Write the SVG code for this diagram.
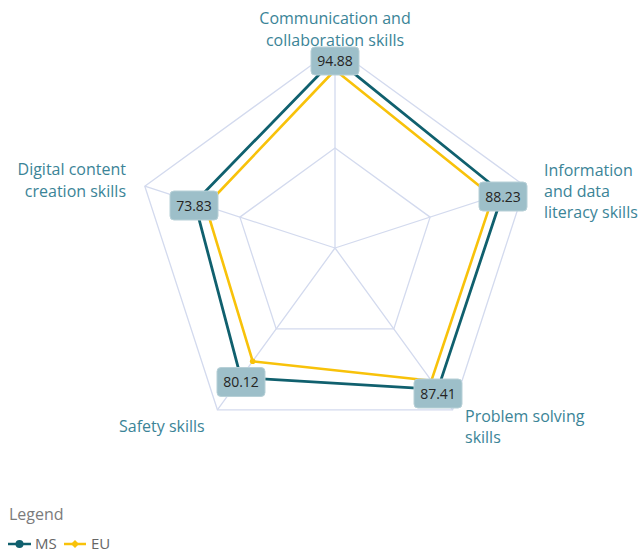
<svg xmlns="http://www.w3.org/2000/svg" width="641" height="553" viewBox="0 0 641 553">
<style>
.grid{fill:none;stroke:#d3daee;stroke-width:1.3}
.ms{fill:none;stroke:#10606e;stroke-width:2.8;stroke-linejoin:round}
.eu{fill:none;stroke:#f8c20a;stroke-width:2.6;stroke-linejoin:round}
.ax{font-family:"Open Sans","Noto Sans",sans-serif;font-size:16px;fill:#3b8497}
.box{fill:#9dbfc9;stroke:#b7d0d7;stroke-width:1}
.val{font-family:"Open Sans","Noto Sans",sans-serif;font-size:14px;fill:#252423;text-anchor:middle}
.leg{font-family:"Open Sans","Noto Sans",sans-serif;font-size:16px;fill:#7b7b7b}
.legi{font-family:"Open Sans","Noto Sans",sans-serif;font-size:15px;fill:#666}
</style>
<rect width="641" height="553" fill="#fff"/>
<g id="grid">
<polygon class="grid" points="335,48 525.2,186.2 452.6,409.8 217.4,409.8 144.8,186.2"/>
<polygon class="grid" points="335,148 430.1,217.1 393.8,328.9 276.2,328.9 239.9,217.1"/>
<path class="grid" d="M335,248L335,48M335,248L525.2,186.2M335,248L452.6,409.8M335,248L217.4,409.8M335,248L144.8,186.2"/>
</g>
<g id="connectors">
<polygon id="series-eu" class="eu" points="335,70 492.9,196.7 431.4,380.7 252.7,361.3 205.7,206"/>
<circle cx="252.7" cy="361.3" r="2.8" fill="#f8c20a"/>
<polygon id="series-ms" class="ms" points="335,58.2 502.8,193.5 437.8,389.4 240.8,377.6 194.6,202.4"/>
</g>
<g id="axis-labels">
<text class="ax" x="335" y="24" text-anchor="middle">Communication and</text>
<text class="ax" x="335" y="46" text-anchor="middle">collaboration skills</text>
<text class="ax" x="544" y="176">Information</text>
<text class="ax" x="544" y="197">and data</text>
<text class="ax" x="544" y="218">literacy skills</text>
<text class="ax" x="126" y="175" text-anchor="end">Digital content</text>
<text class="ax" x="126" y="197" text-anchor="end">creation skills</text>
<text class="ax" x="119" y="432">Safety skills</text>
<text class="ax" x="465" y="422">Problem solving</text>
<text class="ax" x="465" y="443">skills</text>
</g>
<g id="node-communication">
<rect class="box" x="311" y="47" width="48" height="28" rx="4"/>
<text class="val" x="335" y="66">94.88</text>
</g>
<g id="node-information">
<rect class="box" x="479" y="182" width="48" height="29" rx="4"/>
<text class="val" x="503" y="201.5">88.23</text>
</g>
<g id="node-problem">
<rect class="box" x="414" y="379" width="48" height="29" rx="4"/>
<text class="val" x="438" y="398.5">87.41</text>
</g>
<g id="node-safety">
<rect class="box" x="217" y="367.5" width="48" height="29" rx="4"/>
<text class="val" x="241" y="387">80.12</text>
</g>
<g id="node-digital">
<rect class="box" x="170" y="191" width="48" height="29" rx="4"/>
<text class="val" x="194" y="210.5">73.83</text>
</g>
<g id="legend">
<text class="leg" x="9" y="520">Legend</text>
<line x1="8" y1="544" x2="31" y2="544" stroke="#10606e" stroke-width="2.5"/>
<circle cx="19.5" cy="544" r="4" fill="#10606e"/>
<text class="legi" x="35" y="548.5">MS</text>
<line x1="64" y1="544" x2="86" y2="544" stroke="#f8c20a" stroke-width="2.5"/>
<path d="M75,540L79,544L75,548L71,544Z" fill="#f8c20a"/>
<text class="legi" x="91" y="548.5">EU</text>
</g>
</svg>
